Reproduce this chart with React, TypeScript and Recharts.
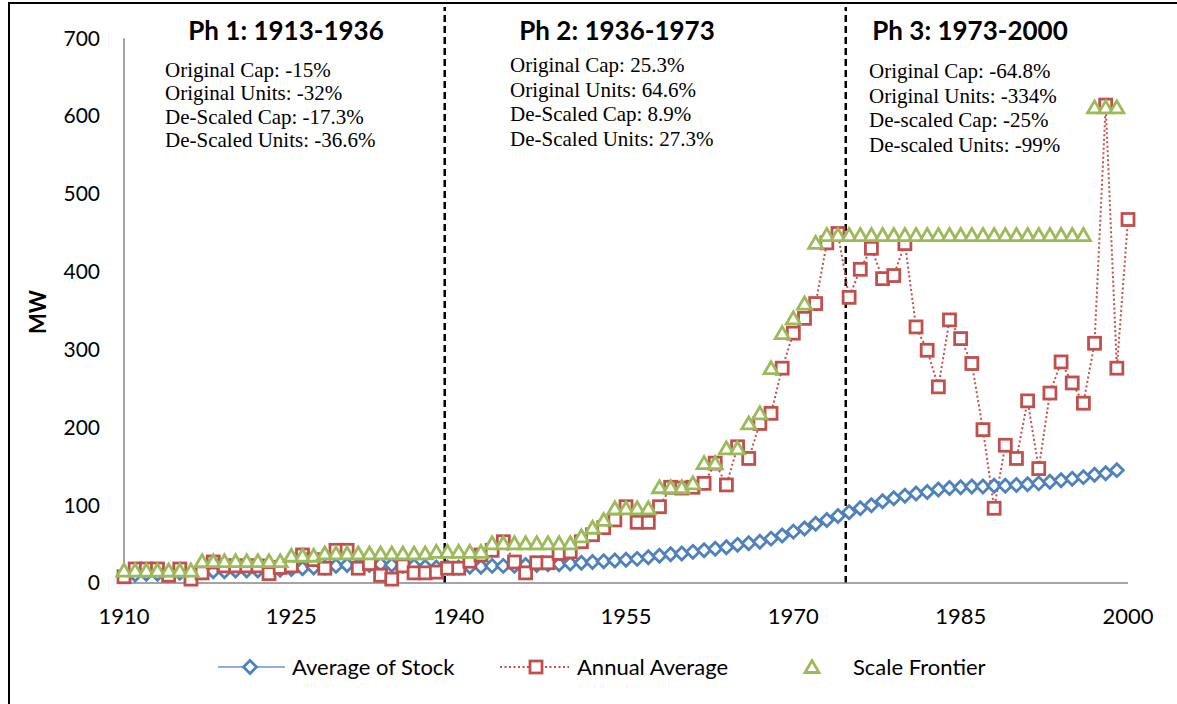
import React from 'react'
import { LineChart, Line, XAxis, YAxis, ReferenceLine } from 'recharts'

const years = [
  1910, 1911, 1912, 1913, 1914, 1915, 1916, 1917, 1918, 1919,
  1920, 1921, 1922, 1923, 1924, 1925, 1926, 1927, 1928, 1929,
  1930, 1931, 1932, 1933, 1934, 1935, 1936, 1937, 1938, 1939,
  1940, 1941, 1942, 1943, 1944, 1945, 1946, 1947, 1948, 1949,
  1950, 1951, 1952, 1953, 1954, 1955, 1956, 1957, 1958, 1959,
  1960, 1961, 1962, 1963, 1964, 1965, 1966, 1967, 1968, 1969,
  1970, 1971, 1972, 1973, 1974, 1975, 1976, 1977, 1978, 1979,
  1980, 1981, 1982, 1983, 1984, 1985, 1986, 1987, 1988, 1989,
  1990, 1991, 1992, 1993, 1994, 1995, 1996, 1997, 1998, 1999,
  2000,
]

// Average of Stock (MW)
const stockAvg = [
  10, 11, 12, 12, 13, 13, 13, 14, 15, 15,
  16, 16, 16, 17, 17, 18, 19, 20, 20, 22,
  23, 23, 23, 24, 23, 22, 22, 21, 20, 20,
  20, 21, 21, 22, 22, 22, 23, 23, 24, 24,
  25, 26, 27, 28, 29, 30, 31, 33, 35, 37,
  38, 40, 42, 44, 46, 49, 51, 53, 57, 61,
  66, 70, 76, 81, 86, 91, 96, 100, 105, 109,
  112, 115, 117, 120, 122, 123, 124, 124, 125, 125,
  126, 127, 128, 130, 132, 134, 136, 139, 141, 145,
  null,
]

// Annual Average (MW)
const annualAvg = [
  8, 18, 18, 18, 10, 18, 5, 13, 27, 22,
  22, 22, 22, 12, 20, 22, 36, 30, 19, 42,
  42, 19, 25, 10, 5, 22, 13, 13, 14, 19,
  19, 28, 36, 42, 53, 27, 13, 26, 26, 38,
  40, 53, 62, 71, 81, 98, 78, 78, 98, 123,
  122, 123, 128, 154, 126, 175, 160, 205, 218, 276,
  321, 340, 359, 437, 449, 367, 403, 430, 391, 395,
  436, 329, 299, 252, 338, 314, 282, 197, 96, 177,
  160, 234, 147, 244, 284, 257, 231, 308, 614, 276,
  467,
]

// Scale Frontier (MW)
const scaleFrontier = [
  16, 16, 16, 16, 16, 16, 16, 28, 28, 28,
  28, 28, 28, 28, 28, 35, 35, 35, 38, 38,
  38, 38, 38, 38, 38, 38, 38, 38, 40, 40,
  40, 40, 40, 51, 51, 51, 51, 51, 51, 51,
  51, 60, 71, 81, 96, 96, 96, 96, 123, 123,
  123, 128, 154, 154, 173, 173, 205, 218, 276, 321,
  340, 359, 437, 447, 447, 447, 447, 447, 447, 447,
  447, 447, 447, 447, 447, 447, 447, 447, 447, 447,
  447, 447, 447, 447, 447, 447, 447, 611, 611, 611,
  null,
]

const xTicks = [1910, 1925, 1940, 1955, 1970, 1985, 2000]
const yTicks = [0, 100, 200, 300, 400, 500, 600, 700]
const phaseBreaks = [1938.75, 1974.7]

const phases = [
  { title: 'Ph 1: 1913-1936', cx: 286, tx: 165, ty: 77, gap: 23.4,
    lines: ['Original Cap: -15%', 'Original Units: -32%', 'De-Scaled Cap: -17.3%', 'De-Scaled Units: -36.6%'] },
  { title: 'Ph 2: 1936-1973', cx: 617, tx: 510, ty: 72, gap: 24.6,
    lines: ['Original Cap: 25.3%', 'Original Units: 64.6%', 'De-Scaled Cap: 8.9%', 'De-Scaled Units: 27.3%'] },
  { title: 'Ph 3: 1973-2000', cx: 970, tx: 869, ty: 78, gap: 24.6,
    lines: ['Original Cap: -64.8%', 'Original Units: -334%', 'De-scaled Cap: -25%', 'De-scaled Units: -99%'] },
]

const BLUE = '#4f81bd'
const RED = '#c0504d'
const GREEN = '#9bbb59'

const data = years.map((year, i) => ({
  year,
  stock: stockAvg[i],
  annual: annualAvg[i],
  frontier: scaleFrontier[i],
}))

const diamondPath = (x: number, y: number, r: number) =>
  `M${x},${y - r}L${x + r},${y}L${x},${y + r}L${x - r},${y}Z`
const trianglePath = (x: number, y: number) =>
  `M${x},${y - 6.5}L${x + 7},${y + 5.5}L${x - 7},${y + 5.5}Z`

const DiamondDot = (props: any) => {
  const { cx, cy, value, index } = props
  if (value == null || cx == null || cy == null) return <g key={`d${index}`} />
  return <path key={`d${index}`} d={diamondPath(cx, cy, 6.5)} fill="#fff" stroke={BLUE} strokeWidth={2.8} />
}

const SquareDot = (props: any) => {
  const { cx, cy, value, index } = props
  if (value == null || cx == null || cy == null) return <g key={`s${index}`} />
  return <rect key={`s${index}`} x={cx - 6} y={cy - 6} width={12} height={12} fill="#fff" stroke={RED} strokeWidth={2.8} />
}

const TriangleDot = (props: any) => {
  const { cx, cy, value, index } = props
  if (value == null || cx == null || cy == null) return <g key={`t${index}`} />
  return <path key={`t${index}`} d={trianglePath(cx, cy)} fill="#fff" stroke={GREEN} strokeWidth={2.8} />
}

const tickStyle = { fill: '#000', fontSize: 21, fontFamily: 'Lato, "Open Sans", sans-serif' }

export default function App() {
  return (
    <div style={{ position: 'absolute', left: 0, top: 0, width: 1177, height: 704, overflow: 'hidden', background: '#fff' }}>
      <div style={{ position: 'absolute', left: 8, top: 2, width: 1300, height: 900, border: '2px solid #000' }} />
      <div style={{ position: 'absolute', left: 0, top: 0 }}>
        <LineChart width={1177} height={704} data={data} margin={{ top: 7, right: 49, left: 64, bottom: 91 }}>
          <XAxis
            dataKey="year"
            type="number"
            domain={[1910, 2000]}
            ticks={xTicks}
            tickLine={false}
            tickMargin={19}
            tick={{ ...tickStyle, fontSize: 22 }}
            axisLine={{ stroke: '#868686', strokeWidth: 1.5 }}
          />
          <YAxis
            type="number"
            domain={[0, 740]}
            ticks={yTicks}
            width={60}
            tickLine={false}
            axisLine={false}
            tickMargin={18}
            tick={tickStyle}
          />
          <ReferenceLine
            segment={[{ x: 1910, y: 0 }, { x: 1910, y: 700 }]}
            stroke="#868686"
            strokeWidth={1.5}
          />
          {phaseBreaks.map((b) => (
            <ReferenceLine key={b} x={b} stroke="#000" strokeWidth={2.5} strokeDasharray="7 4" />
          ))}
          <Line
            dataKey="stock"
            stroke="#8eb0dc"
            strokeWidth={1.5}
            dot={DiamondDot}
            isAnimationActive={false}
          />
          <Line
            dataKey="annual"
            stroke={RED}
            strokeWidth={2}
            strokeDasharray="2 2.5"
            dot={SquareDot}
            isAnimationActive={false}
          />
          <Line
            dataKey="frontier"
            stroke="none"
            dot={TriangleDot}
            isAnimationActive={false}
          />
        </LineChart>
      </div>
      <svg width={1177} height={704} style={{ position: 'absolute', left: 0, top: 0, pointerEvents: 'none' }}>
        <text
          x={0}
          y={0}
          transform="translate(46,312) rotate(-90)"
          textAnchor="middle"
          fontFamily="Lato, sans-serif"
          fontWeight="bold"
          fontSize={22}
        >
          MW
        </text>
        {phases.map((p) => (
          <g key={p.title}>
            <text x={p.cx} y={40} textAnchor="middle" fontFamily="Lato, sans-serif" fontWeight="bold" fontSize={26}>
              {p.title}
            </text>
            {p.lines.map((l, i) => (
              <text key={l} x={p.tx} y={p.ty + i * p.gap} fontFamily='"Liberation Serif", serif' fontSize={21}>
                {l}
              </text>
            ))}
          </g>
        ))}
        <g fontFamily="Lato, sans-serif" fontSize={22}>
          <line x1={218} x2={285} y1={667} y2={667} stroke="#8eb0dc" strokeWidth={2} />
          <path d={diamondPath(250, 667, 6.5)} fill="#fff" stroke={BLUE} strokeWidth={2.8} />
          <text x={292} y={675}>Average of Stock</text>
          <line x1={500} x2={569} y1={667} y2={667} stroke={RED} strokeWidth={2} strokeDasharray="2 2.5" />
          <rect x={530} y={661} width={12} height={12} fill="#fff" stroke={RED} strokeWidth={2.8} />
          <text x={577} y={675}>Annual Average</text>
          <path d={trianglePath(812, 667)} fill="#fff" stroke={GREEN} strokeWidth={2.8} />
          <text x={853} y={675}>Scale Frontier</text>
        </g>
      </svg>
    </div>
  )
}
